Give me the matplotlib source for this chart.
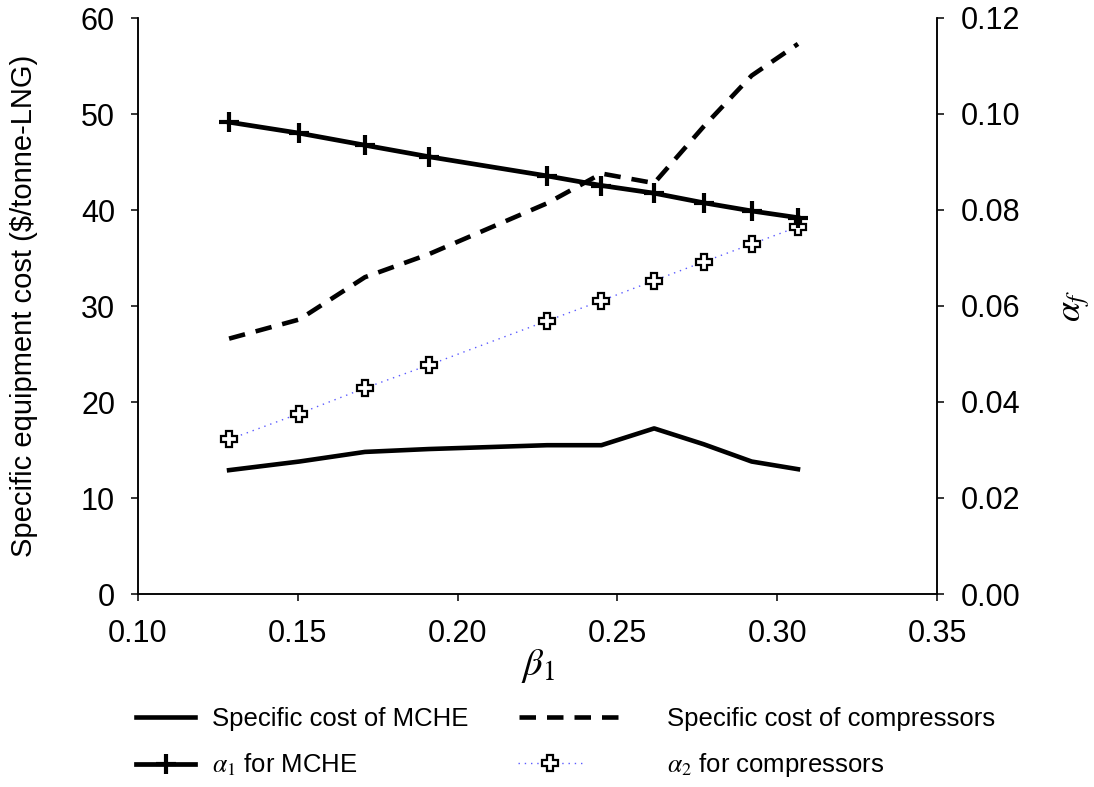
import matplotlib
matplotlib.use("Agg")
import matplotlib.pyplot as plt
from matplotlib.ticker import FormatStrFormatter

plt.rcParams['font.family'] = ['Liberation Sans', 'DejaVu Sans']
plt.rcParams['mathtext.fontset'] = 'stix'

# Data
beta1 = [0.1285, 0.1505, 0.171, 0.191, 0.228, 0.245, 0.2615, 0.277, 0.292, 0.3065]
cost_mche = [12.9, 13.8, 14.8, 15.1, 15.5, 15.5, 17.25, 15.6, 13.8, 13.0]
cost_comp = [26.6, 28.6, 33.0, 35.4, 40.7, 43.8, 42.8, 48.7, 54.0, 57.3]
alpha1 = [0.0983, 0.0960, 0.0935, 0.0911, 0.0871, 0.0851, 0.0835, 0.0815, 0.0798, 0.0784]
alpha2 = [0.0322, 0.0376, 0.0429, 0.0477, 0.0569, 0.0611, 0.0653, 0.0692, 0.0729, 0.0765]

labels = ["Specific cost of MCHE", "Specific cost of compressors",
          r"$\alpha_{\mathit{1}}$ for MCHE", r"$\alpha_{\mathit{2}}$ for compressors"]

W, H = 1094, 787
fig = plt.figure(figsize=(W / 100, H / 100), dpi=100)
L, R, T, B = 138, 937, 18, 594
ax = fig.add_axes([L / W, 1 - B / H, (R - L) / W, (B - T) / H])
ax2 = ax.twinx()

DASH = (3.6, 2.4)
l1, = ax.plot(beta1, cost_mche, color='black', lw=3.3)
l2, = ax.plot(beta1, cost_comp, color='black', lw=3.3, dashes=DASH)
l4, = ax2.plot(beta1, alpha2, color='#5a5aff', lw=1.0, linestyle=(0, (1, 3.5)),
               marker='P', ms=12, mfc='white', mec='black', mew=1.6)
l3, = ax2.plot(beta1, alpha1, color='black', lw=3.4, marker='+', ms=15, mew=3)

ax.set_xlim(0.10, 0.35)
ax.set_ylim(0, 60)
ax2.set_ylim(0, 0.12)
ax.set_xticks([0.10, 0.15, 0.20, 0.25, 0.30, 0.35])
ax.set_yticks(range(0, 61, 10))
ax2.set_yticks([0.00, 0.02, 0.04, 0.06, 0.08, 0.10, 0.12])
ax.xaxis.set_major_formatter(FormatStrFormatter('%.2f'))
ax2.yaxis.set_major_formatter(FormatStrFormatter('%.2f'))

for a in (ax, ax2):
    a.spines['top'].set_visible(False)
    for s in a.spines.values():
        s.set_linewidth(1.1)
    a.tick_params(direction='out', length=5, width=1.1, labelsize=22, pad=11.5)
ax.tick_params(axis='x', pad=13)
ax2.tick_params(axis='y', pad=12)

ax.set_ylabel("Specific equipment cost ($/tonne-LNG)", fontsize=21)
ax.yaxis.set_label_coords((24 - L) / (R - L), 0.5)
ax.yaxis.label.set_va('center')

ax.set_xlabel(r"$\beta_{\mathit{1}}$", fontsize=28)
ax.xaxis.set_label_coords(0.5, (B - 666) / (B - T))
ax.xaxis.label.set_va('center')

ax2.set_ylabel(r"$\alpha_f$", fontsize=26, rotation=90)
ax2.yaxis.set_label_coords((1075 - L) / (R - L), 0.5)
ax2.yaxis.label.set_va('center')

# Legend entries placed individually
FS = 18.5
def put(handle, label, x, y, hl, htp):
    return fig.legend([handle], [label], loc='center left',
                      bbox_to_anchor=(x / W, 1 - y / H), frameon=False,
                      fontsize=FS, handlelength=hl, handletextpad=htp,
                      borderpad=0, borderaxespad=0, numpoints=1)

put(l1, labels[0], 136, 719, 2.3, 0.66)
put(l2, labels[1], 519, 719, 3.85, 1.9)
put(l3, labels[2], 136, 765, 2.3, 0.66)
put(l4, labels[3], 518, 765, 2.5, 3.3)

fig.savefig("out.png", dpi=100)
